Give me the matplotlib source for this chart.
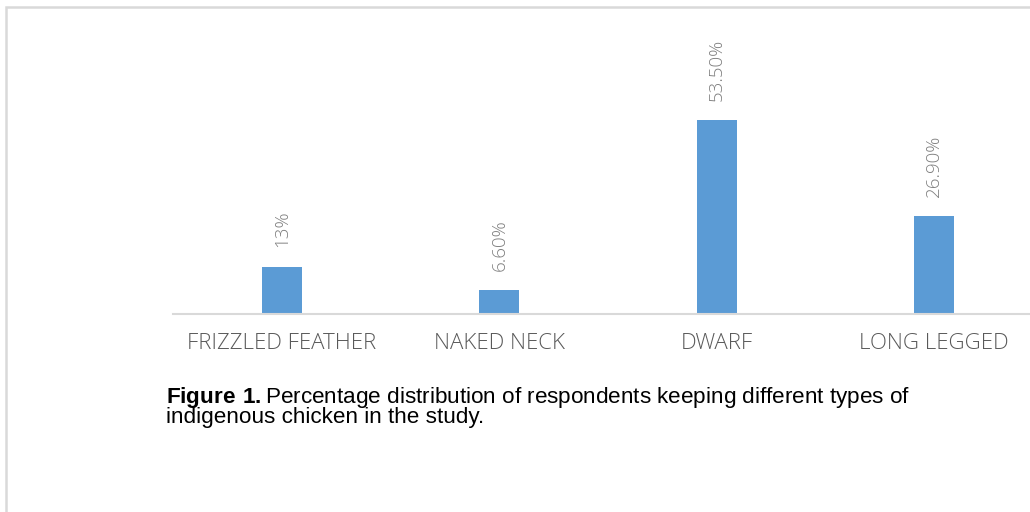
import matplotlib
matplotlib.use("Agg")
import matplotlib.pyplot as plt
from matplotlib.patches import Rectangle

plt.rcParams['mathtext.fontset'] = 'custom'
plt.rcParams['mathtext.rm'] = 'Liberation Sans'
plt.rcParams['mathtext.bf'] = 'Liberation Sans:bold'

categories = ['FRIZZLED FEATHER', 'NAKED NECK', 'DWARF', 'LONG LEGGED']
values = [13.0, 6.6, 53.5, 26.9]
value_labels = ['13%', '6.60%', '53.50%', '26.90%']

W, H = 1030, 512
fig = plt.figure(figsize=(W / 100, H / 100), dpi=100)

# light frame around the picture (only top and left visible)
fig.add_artist(Rectangle((6 / W, -0.2), 1.2, (H - 7) / H + 0.2, transform=fig.transFigure,
                         fill=False, edgecolor='#d9d9d9', linewidth=1.8))

# axes: baseline at y=314px, 3.626 px per percent, slots 217.3px wide
ymax = 60
ax = fig.add_axes([173 / W, (H - 314) / H, (1043 - 173) / W, ymax * 3.626 / H])
x = range(len(categories))
ax.bar(x, values, width=0.184, color='#5b9bd5', zorder=2)
ax.set_xlim(-0.5, len(categories) - 0.5)
ax.set_ylim(0, ymax)

for xi, v, lab in zip(x, values, value_labels):
    ax.annotate(lab, (xi, v), xytext=(0, 14), textcoords='offset points',
                rotation=90, ha='center', va='bottom', fontsize=13.5,
                family='Open Sans', fontweight='light', color='#7f7f7f')

for s in ['top', 'right', 'left']:
    ax.spines[s].set_visible(False)
ax.spines['bottom'].set_color('#d9d9d9')
ax.spines['bottom'].set_linewidth(1.5)
ax.set_yticks([])
ax.set_xticks(list(x))
ax.set_xticklabels(categories, family='Open Sans', fontweight='light',
                   fontsize=16, color='#595959')
ax.tick_params(axis='x', length=0, pad=14)

# caption (one text, bold lead-in via mathtext)
caption = (r'$\mathbf{Figure\ 1.}$Percentage distribution of respondents '
           'keeping different types of\nindigenous chicken in the study.')
fig.text(166 / W, 1 - 423 / H, caption, fontsize=16.2, family='Liberation Sans',
         va='baseline', ha='left', linespacing=0.84)

fig.savefig('out.png', dpi=100)
